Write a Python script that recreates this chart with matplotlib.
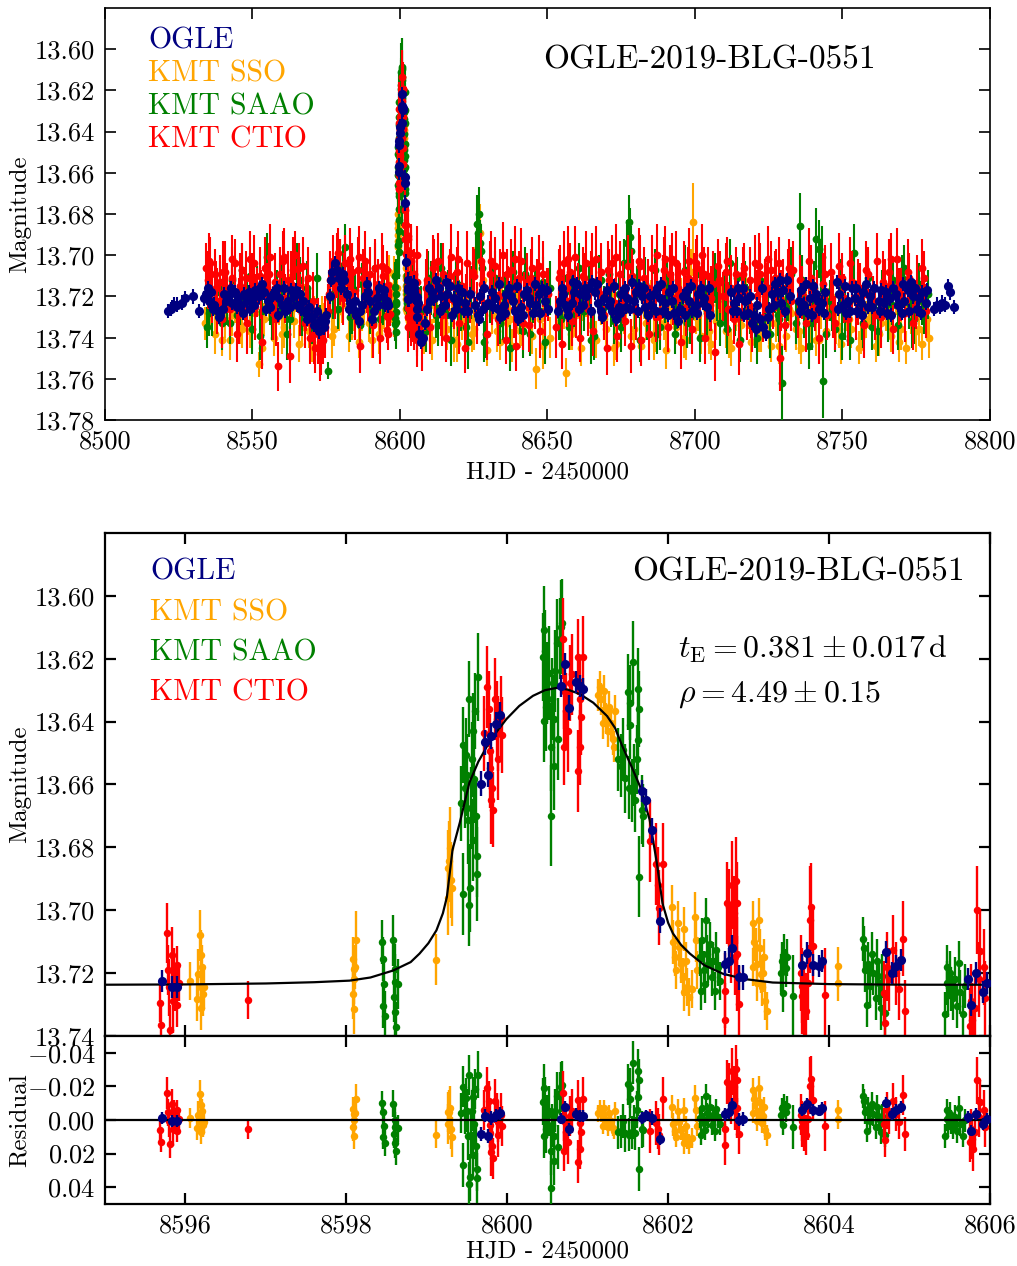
import numpy as np
import matplotlib
matplotlib.use("Agg")
import matplotlib.pyplot as plt

plt.rcParams['font.family'] = ['cmr10', 'DejaVu Serif']
plt.rcParams['mathtext.fontset'] = 'cm'
plt.rcParams['axes.unicode_minus'] = False
plt.rcParams['axes.formatter.use_mathtext'] = True

# ---------------- labels / ticks ----------------
event_name = "OGLE-2019-BLG-0551"
series_names = ["OGLE", "KMT SSO", "KMT SAAO", "KMT CTIO"]
series_colors = ["#000080", "#FFA500", "#008000", "#FF0000"]
top_xticks = [8500, 8550, 8600, 8650, 8700, 8750, 8800]
top_yticks = [13.60, 13.62, 13.64, 13.66, 13.68, 13.70, 13.72, 13.74, 13.76, 13.78]
zoom_xticks = [8596, 8598, 8600, 8602, 8604, 8606]
zoom_yticks = [13.60, 13.62, 13.64, 13.66, 13.68, 13.70, 13.72, 13.74]
res_yticks = [-0.04, -0.02, 0.00, 0.02, 0.04]
res_yticklabels = [r"$-0.04$", r"$-0.02$", r"$0.00$", r"$0.02$", r"$0.04$"]
tE_text = r"$t_{\rm E} = 0.381 \pm 0.017\,{\rm d}$"
rho_text = r"$\rho = 4.49 \pm 0.15$"

# ---------------- model curve ----------------
model_t = [8595.0, 8596.0, 8597.0, 8597.6, 8598.04, 8598.3, 8598.58, 8598.8, 8598.91, 8599.02,
           8599.12, 8599.20, 8599.25, 8599.32, 8599.41, 8599.53, 8599.64, 8599.75, 8599.87, 8599.99,
           8600.15, 8600.32, 8600.47, 8600.61, 8600.75, 8600.90, 8601.07, 8601.24, 8601.34, 8601.43,
           8601.54, 8601.65, 8601.77, 8601.86, 8601.93, 8602.00, 8602.06, 8602.16, 8602.27, 8602.45,
           8602.68, 8602.95, 8603.30, 8604.0, 8605.0, 8606.0]
model_m = [13.7237, 13.7236, 13.7233, 13.7229, 13.7224, 13.7214, 13.7192, 13.7165, 13.7138, 13.7105,
           13.7064, 13.7010, 13.6958, 13.6808, 13.6722, 13.6594, 13.6528, 13.6478, 13.6432, 13.6392,
           13.6350, 13.6318, 13.6300, 13.6293, 13.6298, 13.6312, 13.6340, 13.6382, 13.6420, 13.6478,
           13.6540, 13.6606, 13.6712, 13.6850, 13.6978, 13.7040, 13.7074, 13.7110, 13.7138, 13.7175,
           13.7202, 13.7219, 13.7230, 13.7235, 13.7237, 13.7237]

# ---------------- zoomed-panel data (8595 - 8606) ----------------
ogle_t = [8595.71, 8595.83, 8595.89, 8599.67, 8599.72, 8599.76, 8599.80, 8599.86, 8599.91, 8600.67,
          8600.72, 8600.77, 8600.85, 8600.90, 8600.94, 8601.68, 8601.73, 8601.80, 8601.90, 8602.71,
          8602.76, 8602.80, 8602.88, 8602.93, 8603.67, 8603.73, 8603.80, 8603.87, 8603.91, 8604.71,
          8604.78, 8604.83, 8604.89, 8605.73, 8605.77, 8605.83, 8605.91, 8605.96]
ogle_m = [13.7224, 13.7243, 13.7243, 13.6597, 13.6466, 13.6569, 13.6446, 13.6409, 13.6379, 13.6287,
          13.6217, 13.6356, 13.6274, 13.6287, 13.6296, 13.6622, 13.6650, 13.6746, 13.7034, 13.7170,
          13.7160, 13.7120, 13.7213, 13.7213, 13.7173, 13.7136, 13.7173, 13.7178, 13.7162, 13.7133,
          13.7200, 13.7178, 13.7159, 13.7220, 13.7300, 13.7201, 13.7260, 13.7231]
ogle_e = [0.0035, 0.0035, 0.0035, 0.0040, 0.0040, 0.0040, 0.0040, 0.0040, 0.0040, 0.0035,
          0.0035, 0.0040, 0.0035, 0.0035, 0.0035, 0.0035, 0.0035, 0.0040, 0.0040, 0.0040,
          0.0040, 0.0040, 0.0040, 0.0040, 0.0035, 0.0035, 0.0035, 0.0035, 0.0035, 0.0035,
          0.0035, 0.0035, 0.0035, 0.0035, 0.0035, 0.0035, 0.0035, 0.0035]

sso_t = [8596.06, 8596.14, 8596.16, 8596.18, 8596.19, 8596.20, 8596.20, 8596.21, 8596.22, 8596.23,
         8598.08, 8598.08, 8598.09, 8598.09, 8598.10, 8598.11, 8598.12, 8599.11, 8599.26, 8599.27,
         8599.28, 8599.29, 8599.30, 8599.31, 8601.13, 8601.15, 8601.17, 8601.19, 8601.20, 8601.21,
         8601.23, 8601.25, 8601.27, 8601.29, 8601.31, 8601.33, 8601.34, 8602.05, 8602.06, 8602.08,
         8602.10, 8602.12, 8602.14, 8602.16, 8602.18, 8602.20, 8602.20, 8602.22, 8602.24, 8602.26,
         8602.30, 8602.33, 8602.35, 8602.36, 8603.05, 8603.06, 8603.07, 8603.09, 8603.10, 8603.11,
         8603.13, 8603.14, 8603.15, 8603.17, 8603.18, 8603.19, 8603.21, 8603.23, 8604.11, 8604.11]
sso_m = [13.7224, 13.7283, 13.7203, 13.7080, 13.7310, 13.7144, 13.7245, 13.7181, 13.7267, 13.7245,
         13.7155, 13.7265, 13.7187, 13.7315, 13.7219, 13.7180, 13.7094, 13.7157, 13.6960, 13.6866,
         13.6845, 13.6802, 13.6904, 13.6930, 13.6315, 13.6290, 13.6328, 13.6405, 13.6302, 13.6366,
         13.6390, 13.6430, 13.6354, 13.6405, 13.6456, 13.6480, 13.6366, 13.6989, 13.7100, 13.7149,
         13.7190, 13.7040, 13.7117, 13.7170, 13.7213, 13.7060, 13.7260, 13.7160, 13.7245, 13.7277,
         13.7250, 13.7021, 13.7096, 13.7190, 13.7042, 13.7180, 13.7100, 13.7117, 13.7230, 13.7170,
         13.7032, 13.7120, 13.7202, 13.7245, 13.7200, 13.7150, 13.7288, 13.7320, 13.7178, 13.7230]
sso_e = [0.006, 0.007, 0.008, 0.008, 0.007, 0.008, 0.008, 0.007, 0.007, 0.007,
         0.007, 0.008, 0.007, 0.008, 0.008, 0.007, 0.009, 0.008, 0.012, 0.012,
         0.013, 0.013, 0.012, 0.012, 0.005, 0.005, 0.005, 0.005, 0.005, 0.005,
         0.005, 0.005, 0.005, 0.005, 0.005, 0.005, 0.005, 0.007, 0.007, 0.006,
         0.006, 0.007, 0.006, 0.006, 0.006, 0.007, 0.006, 0.006, 0.006, 0.006,
         0.006, 0.008, 0.007, 0.006, 0.007, 0.006, 0.006, 0.006, 0.006, 0.006,
         0.007, 0.006, 0.006, 0.006, 0.006, 0.006, 0.006, 0.006, 0.006, 0.006]

saao_t = [8598.44, 8598.46, 8598.46, 8598.47, 8598.48, 8598.58, 8598.59, 8598.60, 8598.60, 8598.61,
          8598.62, 8598.64, 8599.43, 8599.45, 8599.455, 8599.47, 8599.49, 8599.50, 8599.51, 8599.52,
          8599.53, 8599.54, 8599.55, 8599.56, 8599.57, 8599.58, 8599.59, 8599.60, 8599.61, 8599.62,
          8599.63, 8599.64, 8600.44, 8600.46, 8600.46, 8600.47, 8600.48, 8600.50, 8600.52, 8600.54,
          8600.55, 8600.56, 8600.58, 8600.58, 8600.60, 8600.62, 8600.63, 8600.65, 8600.67, 8600.68,
          8601.38, 8601.42, 8601.44, 8601.47, 8601.50, 8601.51, 8601.52, 8601.53, 8601.55, 8601.56,
          8601.57, 8601.59, 8601.61, 8601.62, 8601.63, 8601.64, 8601.64, 8601.67, 8601.69, 8602.39,
          8602.41, 8602.42, 8602.44, 8602.46, 8602.47, 8602.48, 8602.50, 8602.52, 8602.54, 8602.56,
          8602.58, 8602.60, 8602.62, 8602.64, 8603.40, 8603.42, 8603.43, 8603.44, 8603.46, 8603.48,
          8603.55, 8604.42, 8604.43, 8604.45, 8604.47, 8604.49, 8604.51, 8604.53, 8604.55, 8604.58,
          8604.60, 8604.62, 8604.64, 8604.66, 8604.69, 8605.44, 8605.46, 8605.46, 8605.48, 8605.50,
          8605.52, 8605.54, 8605.57, 8605.59, 8605.61, 8605.63, 8605.67, 8605.69]
saao_m = [13.7101, 13.7155, 13.7304, 13.7235, 13.7336, 13.7096, 13.7277, 13.7187, 13.7325, 13.7229,
          13.7373, 13.7235, 13.6660, 13.6949, 13.6475, 13.6610, 13.6507, 13.6570, 13.6712, 13.6984,
          13.6328, 13.6930, 13.6674, 13.6520, 13.6776, 13.6430, 13.6584, 13.6366, 13.6700, 13.6884,
          13.6827, 13.6258, 13.6194, 13.6110, 13.6398, 13.6174, 13.6354, 13.6277, 13.6245, 13.6482,
          13.6699, 13.6328, 13.6392, 13.6540, 13.6238, 13.6149, 13.6456, 13.6136, 13.6098, 13.6085,
          13.6520, 13.6540, 13.6490, 13.6580, 13.6306, 13.6610, 13.6340, 13.6410, 13.6620, 13.6210,
          13.6570, 13.6650, 13.6520, 13.6296, 13.6460, 13.6360, 13.6893, 13.6680, 13.6700, 13.7149,
          13.7256, 13.7096, 13.7190, 13.7234, 13.7032, 13.7138, 13.7170, 13.7106, 13.7213, 13.7160,
          13.7256, 13.7128, 13.7180, 13.7224, 13.7200, 13.7162, 13.7263, 13.7136, 13.7183, 13.7150,
          13.7273, 13.7093, 13.7120, 13.7190, 13.7300, 13.7170, 13.7240, 13.7140, 13.7200, 13.7280,
          13.7160, 13.7230, 13.7310, 13.7210, 13.7326, 13.7331, 13.7230, 13.7180, 13.7270, 13.7200,
          13.7250, 13.7280, 13.7220, 13.7305, 13.7167, 13.7260, 13.7330, 13.7240]
saao_e = [0.007, 0.007, 0.007, 0.008, 0.008, 0.008, 0.008, 0.008, 0.009, 0.009,
          0.008, 0.008, 0.012, 0.013, 0.012, 0.013, 0.012, 0.013, 0.014, 0.013,
          0.012, 0.014, 0.013, 0.012, 0.013, 0.012, 0.014, 0.012, 0.012, 0.015,
          0.013, 0.014, 0.014, 0.014, 0.013, 0.013, 0.014, 0.013, 0.015, 0.014,
          0.016, 0.013, 0.014, 0.014, 0.013, 0.014, 0.013, 0.013, 0.015, 0.014,
          0.010, 0.010, 0.010, 0.011, 0.012, 0.010, 0.012, 0.011, 0.010, 0.013,
          0.010, 0.010, 0.011, 0.013, 0.011, 0.012, 0.013, 0.011, 0.010, 0.006,
          0.006, 0.007, 0.006, 0.006, 0.007, 0.006, 0.006, 0.007, 0.006, 0.006,
          0.006, 0.006, 0.006, 0.006, 0.006, 0.006, 0.006, 0.006, 0.006, 0.006,
          0.013, 0.007, 0.007, 0.007, 0.007, 0.007, 0.007, 0.007, 0.007, 0.007,
          0.007, 0.007, 0.007, 0.007, 0.007, 0.007, 0.007, 0.007, 0.007, 0.007,
          0.007, 0.007, 0.007, 0.007, 0.007, 0.007, 0.007, 0.007]

ctio_t = [8595.68, 8595.70, 8595.77, 8595.78, 8595.80, 8595.81, 8595.83, 8595.84, 8595.86, 8595.87,
          8595.89, 8595.90, 8595.92, 8596.78, 8599.71, 8599.75, 8599.77, 8599.78, 8599.79, 8599.80,
          8599.81, 8599.82, 8599.85, 8599.87, 8599.88, 8599.89, 8599.92, 8599.94, 8600.69, 8600.71,
          8600.71, 8600.73, 8600.75, 8600.78, 8600.80, 8600.88, 8600.88, 8600.90, 8600.90, 8600.92,
          8600.94, 8601.77, 8601.85, 8601.87, 8601.89, 8601.93, 8602.71, 8602.71, 8602.73, 8602.76,
          8602.78, 8602.80, 8602.82, 8602.83, 8602.84, 8602.85, 8602.86, 8602.86, 8602.88, 8603.65,
          8603.66, 8603.67, 8603.69, 8603.71, 8603.74, 8603.76, 8603.78, 8603.80, 8603.95, 8604.68,
          8604.70, 8604.72, 8604.74, 8604.79, 8604.83, 8604.87, 8604.92, 8604.95, 8605.75, 8605.76,
          8605.78, 8605.79, 8605.81, 8605.84, 8605.86, 8605.88, 8605.92, 8605.94]
ctio_m = [13.7295, 13.7365, 13.7073, 13.7190, 13.7245, 13.7380, 13.7144, 13.7290, 13.7200, 13.7250,
          13.7300, 13.7175, 13.7230, 13.7285, 13.6437, 13.6290, 13.6360, 13.6546, 13.6495, 13.6650,
          13.6610, 13.6680, 13.6328, 13.6392, 13.6520, 13.6437, 13.6386, 13.6443, 13.6136, 13.6302,
          13.6482, 13.6366, 13.6430, 13.6277, 13.6250, 13.6194, 13.6558, 13.6328, 13.6482, 13.6386,
          13.6194, 13.6779, 13.6854, 13.6920, 13.6992, 13.6854, 13.7256, 13.7350, 13.6978, 13.6990,
          13.7110, 13.6920, 13.7010, 13.7150, 13.6907, 13.7202, 13.6978, 13.7140, 13.7298, 13.7200,
          13.7240, 13.7273, 13.7300, 13.7321, 13.7230, 13.7030, 13.6990, 13.7115, 13.7271, 13.7263,
          13.7358, 13.7180, 13.7220, 13.7125, 13.7200, 13.7250, 13.7090, 13.7321, 13.7369, 13.7290,
          13.7350, 13.7411, 13.7310, 13.7000, 13.7220, 13.7130, 13.7180, 13.7280]
ctio_e = [0.006, 0.006, 0.0095, 0.008, 0.009, 0.008, 0.009, 0.010, 0.008, 0.007,
          0.007, 0.006, 0.006, 0.006, 0.012, 0.013, 0.012, 0.013, 0.012, 0.014,
          0.013, 0.012, 0.013, 0.012, 0.013, 0.012, 0.013, 0.012, 0.013, 0.012,
          0.012, 0.012, 0.013, 0.012, 0.013, 0.012, 0.013, 0.013, 0.012, 0.012,
          0.013, 0.013, 0.013, 0.012, 0.012, 0.013, 0.012, 0.012, 0.013, 0.012,
          0.012, 0.014, 0.012, 0.012, 0.014, 0.012, 0.013, 0.012, 0.012, 0.012,
          0.012, 0.012, 0.012, 0.012, 0.012, 0.017, 0.014, 0.012, 0.015, 0.010,
          0.010, 0.011, 0.010, 0.011, 0.010, 0.010, 0.012, 0.010, 0.012, 0.012,
          0.012, 0.013, 0.012, 0.014, 0.012, 0.013, 0.012, 0.012]

# ---------------- full-season data outside the zoom window ----------------
ogle_top_t = [8521.4, 8522.3, 8522.7, 8523.5, 8524.5, 8526.0, 8527.1, 8529.8, 8531.9, 8533.5,
              8534.3, 8535.2, 8536.1, 8537.0, 8538.2, 8539.1, 8540.0, 8541.2, 8542.3, 8543.1,
              8544.0, 8545.2, 8546.1, 8547.0, 8548.3, 8549.2, 8550.1, 8551.0, 8552.2, 8553.1,
              8554.0, 8555.2, 8556.1, 8557.0, 8558.2, 8559.1, 8560.0, 8561.2, 8562.1, 8563.0,
              8564.2, 8565.1, 8566.0, 8567.2, 8568.1, 8569.0, 8570.2, 8571.1, 8572.0, 8573.2,
              8574.1, 8575.0, 8576.2, 8577.1, 8578.0, 8579.2, 8580.1, 8581.0, 8582.2, 8583.1,
              8584.0, 8585.2, 8586.1, 8587.0, 8588.2, 8589.1, 8590.0, 8591.2, 8592.1, 8593.0,
              8594.2, 8595.0, 8606.5, 8607.2, 8607.8, 8608.5, 8609.3, 8610.2, 8611.0, 8612.3,
              8613.1, 8614.0, 8615.2, 8616.1, 8617.0, 8618.2, 8619.1, 8620.0, 8621.2, 8622.1,
              8623.0, 8625.6, 8626.4, 8627.3, 8628.1, 8630.0, 8631.3, 8632.2, 8633.1, 8634.0,
              8635.2, 8636.1, 8637.0, 8638.2, 8639.1, 8640.0, 8641.2, 8642.1, 8643.0, 8644.2,
              8645.1, 8646.0, 8647.2, 8648.1, 8649.0, 8650.2, 8653.5, 8654.3, 8655.2, 8656.1,
              8657.0, 8658.2, 8659.1, 8660.0, 8661.2, 8662.1, 8663.0, 8664.2, 8665.1, 8666.0,
              8667.2, 8668.1, 8669.0, 8670.2, 8671.1, 8672.0, 8673.2, 8674.1, 8675.0, 8676.2,
              8677.1, 8678.0, 8679.2, 8680.1, 8681.0, 8682.2, 8683.1, 8684.0, 8685.2, 8686.1,
              8687.0, 8688.2, 8689.1, 8690.0, 8691.2, 8692.1, 8693.0, 8694.2, 8695.1, 8696.0,
              8697.2, 8698.1, 8699.0, 8700.2, 8701.1, 8702.0, 8703.2, 8704.1, 8705.0, 8712.3,
              8713.2, 8714.1, 8715.0, 8716.2, 8717.1, 8718.0, 8719.2, 8720.1, 8721.0, 8722.2,
              8723.1, 8724.0, 8725.2, 8726.1, 8727.0, 8728.2, 8729.1, 8730.0, 8731.2, 8732.1,
              8735.2, 8736.1, 8737.0, 8738.2, 8739.1, 8740.0, 8741.2, 8742.1, 8743.0, 8744.2,
              8748.1, 8749.0, 8750.2, 8751.1, 8752.0, 8753.2, 8754.1, 8755.0, 8756.2, 8757.1,
              8758.0, 8759.2, 8760.1, 8762.3, 8763.2, 8764.1, 8765.0, 8766.2, 8767.1, 8768.0,
              8769.2, 8770.1, 8771.0, 8772.2, 8773.1, 8774.0, 8775.2, 8776.1, 8777.0, 8778.2,
              8781.2, 8782.0, 8782.9, 8783.8, 8784.6, 8785.9, 8786.6, 8787.8]
ogle_top_m = [13.727, 13.726, 13.725, 13.724, 13.724, 13.723, 13.721, 13.720, 13.727, 13.721,
              13.719, 13.722, 13.718, 13.724, 13.727, 13.729, 13.726, 13.722, 13.719, 13.723,
              13.718, 13.721, 13.724, 13.719, 13.722, 13.726, 13.721, 13.717, 13.720, 13.714,
              13.718, 13.722, 13.725, 13.719, 13.716, 13.721, 13.724, 13.727, 13.722, 13.717,
              13.720, 13.724, 13.719, 13.722, 13.728, 13.725, 13.730, 13.733, 13.727, 13.731,
              13.735, 13.729, 13.720, 13.708, 13.704, 13.711, 13.716, 13.712, 13.719, 13.723,
              13.726, 13.729, 13.732, 13.724, 13.720, 13.718, 13.722, 13.727, 13.721, 13.716,
              13.720, 13.724, 13.738, 13.742, 13.740, 13.733, 13.726, 13.722, 13.718, 13.712,
              13.716, 13.720, 13.724, 13.719, 13.715, 13.721, 13.726, 13.722, 13.718, 13.723,
              13.727, 13.724, 13.729, 13.720, 13.726, 13.723, 13.718, 13.721, 13.726, 13.730,
              13.724, 13.719, 13.716, 13.722, 13.727, 13.731, 13.725, 13.719, 13.717, 13.723,
              13.728, 13.724, 13.719, 13.716, 13.722, 13.726, 13.727, 13.722, 13.719, 13.724,
              13.729, 13.723, 13.718, 13.714, 13.719, 13.724, 13.720, 13.716, 13.713, 13.718,
              13.723, 13.727, 13.721, 13.717, 13.722, 13.727, 13.731, 13.725, 13.719, 13.716,
              13.721, 13.726, 13.722, 13.718, 13.715, 13.720, 13.725, 13.729, 13.724, 13.719,
              13.716, 13.721, 13.727, 13.723, 13.718, 13.722, 13.728, 13.732, 13.726, 13.720,
              13.717, 13.722, 13.727, 13.724, 13.719, 13.716, 13.721, 13.725, 13.729, 13.718,
              13.723, 13.727, 13.721, 13.716, 13.722, 13.728, 13.733, 13.729, 13.724, 13.731,
              13.735, 13.738, 13.726, 13.719, 13.714, 13.718, 13.723, 13.717, 13.712, 13.720,
              13.722, 13.717, 13.724, 13.728, 13.721, 13.715, 13.719, 13.726, 13.723, 13.718,
              13.713, 13.719, 13.724, 13.728, 13.722, 13.716, 13.721, 13.727, 13.723, 13.718,
              13.714, 13.720, 13.725, 13.722, 13.717, 13.723, 13.728, 13.721, 13.716, 13.719,
              13.724, 13.728, 13.722, 13.717, 13.713, 13.720, 13.726, 13.721, 13.718, 13.723,
              13.726, 13.724, 13.725, 13.723, 13.724, 13.715, 13.718, 13.725]
ogle_top2_t = [8534.8, 8536.6, 8538.7, 8540.5, 8542.8, 8544.6, 8546.7, 8548.8, 8550.6, 8552.7,
               8554.6, 8556.7, 8558.7, 8560.6, 8562.7, 8564.7, 8566.6, 8568.6, 8570.7, 8572.6,
               8574.6, 8576.7, 8578.6, 8580.6, 8582.7, 8584.6, 8586.6, 8588.7, 8590.6, 8592.6,
               8594.6, 8609.8, 8611.6, 8613.6, 8615.7, 8617.6, 8619.7, 8621.7, 8623.6, 8626.9,
               8628.6, 8631.7, 8633.6, 8635.7, 8637.6, 8639.7, 8641.7, 8643.6, 8645.7, 8647.6,
               8649.7, 8654.8, 8656.7, 8658.7, 8660.6, 8662.7, 8664.6, 8666.7, 8668.6, 8670.7,
               8672.6, 8674.7, 8676.6, 8678.7, 8680.6, 8682.7, 8684.6, 8686.7, 8688.6, 8690.7,
               8692.6, 8694.7, 8696.6, 8698.7, 8700.7, 8702.6, 8704.7, 8712.8, 8714.7, 8716.6,
               8718.7, 8720.6, 8722.7, 8724.6, 8726.7, 8728.7, 8730.6, 8735.7, 8737.6, 8739.7,
               8741.7, 8743.6, 8748.6, 8750.7, 8752.6, 8754.7, 8756.6, 8758.7, 8760.6, 8762.8,
               8764.7, 8766.6, 8768.7, 8770.6, 8772.7, 8774.6, 8776.7, 8778.6]
ogle_top2_m = [13.716, 13.726, 13.730, 13.719, 13.716, 13.725, 13.728, 13.718, 13.724, 13.716,
               13.726, 13.720, 13.729, 13.716, 13.725, 13.717, 13.726, 13.731, 13.734, 13.737,
               13.732, 13.712, 13.707, 13.709, 13.726, 13.722, 13.727, 13.714, 13.731, 13.724,
               13.717, 13.716, 13.721, 13.727, 13.713, 13.729, 13.716, 13.727, 13.719, 13.731,
               13.716, 13.725, 13.714, 13.728, 13.720, 13.715, 13.729, 13.721, 13.714, 13.728,
               13.717, 13.716, 13.726, 13.713, 13.726, 13.716, 13.727, 13.714, 13.730, 13.724,
               13.715, 13.728, 13.725, 13.713, 13.727, 13.716, 13.720, 13.727, 13.714, 13.729,
               13.716, 13.727, 13.729, 13.715, 13.728, 13.723, 13.716, 13.727, 13.716, 13.729,
               13.720, 13.736, 13.716, 13.730, 13.724, 13.712, 13.727, 13.727, 13.714, 13.729,
               13.722, 13.728, 13.726, 13.715, 13.727, 13.716, 13.729, 13.725, 13.716, 13.727,
               13.718, 13.729, 13.724, 13.714, 13.727, 13.716, 13.728, 13.717]
ogle_top_err = 0.0035

ctio_top_t = [8534.1, 8534.9, 8535.6, 8536.4, 8537.3, 8538.1, 8539.0, 8539.8, 8540.7, 8541.5,
              8542.4, 8543.2, 8544.1, 8544.9, 8545.8, 8546.6, 8547.5, 8548.3, 8549.2, 8550.0,
              8550.9, 8551.7, 8552.6, 8553.4, 8554.3, 8555.1, 8556.0, 8556.8, 8557.7, 8558.5,
              8559.4, 8560.2, 8561.1, 8561.9, 8562.8, 8563.6, 8564.5, 8565.3, 8566.2, 8567.0,
              8567.9, 8568.7, 8569.6, 8570.4, 8571.3, 8572.1, 8573.0, 8573.8, 8574.7, 8575.5,
              8576.4, 8577.2, 8578.1, 8578.9, 8579.8, 8580.6, 8581.5, 8582.3, 8583.2, 8584.0,
              8584.9, 8585.7, 8586.6, 8587.4, 8588.3, 8589.1, 8590.0, 8590.8, 8591.7, 8592.5,
              8593.4, 8594.2,
              8606.6, 8607.5, 8608.4, 8609.3, 8610.2, 8611.1, 8612.0, 8612.9, 8613.8, 8614.7,
              8615.6, 8616.5, 8617.4, 8618.3, 8619.2, 8620.1, 8621.0, 8621.9, 8622.8, 8623.7,
              8625.0, 8626.2, 8627.4, 8628.6, 8629.5, 8630.4, 8631.3, 8632.2, 8633.1, 8634.0,
              8634.9, 8635.8, 8636.7, 8637.6, 8638.5, 8639.4, 8640.3, 8641.2, 8642.1, 8643.0,
              8643.9, 8644.8, 8645.7, 8646.6, 8647.5, 8648.4, 8649.3, 8650.2, 8653.0, 8653.9,
              8654.8, 8655.7, 8656.6, 8657.5, 8658.4, 8659.3, 8660.2, 8661.1, 8662.0, 8662.9,
              8663.8, 8664.7, 8665.6, 8666.5, 8667.4, 8668.3, 8669.2, 8670.1, 8671.0, 8671.9,
              8672.8, 8673.7, 8674.6, 8675.5, 8676.4, 8677.3, 8678.2, 8679.1, 8680.0, 8680.9,
              8681.8, 8682.7, 8683.6, 8684.5, 8685.4, 8686.3, 8687.2, 8688.1, 8689.0, 8689.9,
              8690.8, 8691.7, 8692.6, 8693.5, 8694.4, 8695.3, 8696.2, 8697.1, 8698.0, 8698.9,
              8699.8, 8700.7, 8701.6, 8702.5, 8703.4, 8704.3, 8705.2, 8706.1, 8706.8, 8707.7,
              8708.6, 8709.5, 8710.4, 8711.3, 8712.2, 8713.1, 8714.0, 8714.9, 8715.8, 8716.7,
              8717.6, 8718.5, 8719.4, 8720.3, 8721.2, 8722.1, 8723.0, 8723.9, 8724.8, 8725.7,
              8726.6, 8727.5, 8728.4, 8728.8, 8729.7, 8730.6, 8731.5, 8732.4, 8733.3, 8735.0,
              8736.4, 8737.8, 8739.2, 8740.6, 8742.0, 8743.4, 8744.8, 8746.2, 8747.6, 8749.0,
              8750.4, 8751.8, 8753.2, 8754.6, 8756.0, 8757.4, 8758.8, 8760.2, 8761.6, 8763.0,
              8764.4, 8765.8, 8767.2, 8768.4, 8769.8, 8771.2, 8772.6, 8774.0, 8775.4, 8776.8,
              8778.2]
ctio_top_m = [13.706, 13.712, 13.704, 13.718, 13.709, 13.722, 13.713, 13.731, 13.708, 13.716,
              13.726, 13.711, 13.704, 13.738, 13.715, 13.707, 13.720, 13.733, 13.702, 13.712,
              13.725, 13.718, 13.710, 13.742, 13.706, 13.716, 13.701, 13.728, 13.713, 13.754,
              13.709, 13.703, 13.721, 13.712, 13.749, 13.707, 13.700, 13.715, 13.724, 13.705,
              13.733, 13.711, 13.740, 13.722, 13.745, 13.737, 13.748, 13.741, 13.735, 13.727,
              13.712, 13.703, 13.716, 13.699, 13.708, 13.721, 13.704, 13.713, 13.702, 13.718,
              13.729, 13.707, 13.744, 13.711, 13.703, 13.720, 13.709, 13.734, 13.706, 13.714,
              13.740, 13.710,
              13.731, 13.742, 13.725, 13.712, 13.735, 13.706, 13.718, 13.703, 13.726, 13.709,
              13.740, 13.714, 13.701, 13.722, 13.708, 13.733, 13.715, 13.745, 13.704, 13.719,
              13.710, 13.728, 13.703, 13.716, 13.738, 13.709, 13.722, 13.705, 13.731, 13.712,
              13.700, 13.741, 13.718, 13.707, 13.726, 13.744, 13.711, 13.703, 13.720, 13.713,
              13.734, 13.706, 13.724, 13.716, 13.737, 13.709, 13.727, 13.719, 13.735, 13.711,
              13.743, 13.704, 13.722, 13.708, 13.732, 13.701, 13.717, 13.740, 13.710, 13.704,
              13.726, 13.713, 13.737, 13.702, 13.719, 13.708, 13.729, 13.745, 13.712, 13.704,
              13.723, 13.739, 13.709, 13.717, 13.732, 13.705, 13.744, 13.714, 13.727, 13.703,
              13.741, 13.711, 13.722, 13.738, 13.706, 13.718, 13.700, 13.729, 13.713, 13.702,
              13.735, 13.709, 13.721, 13.704, 13.716, 13.742, 13.708, 13.725, 13.703, 13.736,
              13.712, 13.706, 13.719, 13.700, 13.740, 13.710, 13.724, 13.714, 13.747, 13.705,
              13.713, 13.720, 13.708, 13.726, 13.716, 13.731, 13.709, 13.743, 13.718, 13.706,
              13.728, 13.712, 13.735, 13.704, 13.720, 13.709, 13.730, 13.715, 13.702, 13.707,
              13.724, 13.712, 13.704, 13.750, 13.716, 13.734, 13.710, 13.722, 13.707, 13.728,
              13.718, 13.733, 13.711, 13.725, 13.740, 13.714, 13.729, 13.708, 13.733, 13.705,
              13.721, 13.731, 13.713, 13.727, 13.716, 13.734, 13.709, 13.722, 13.703, 13.730,
              13.715, 13.708, 13.736, 13.702, 13.719, 13.728, 13.711, 13.733, 13.716, 13.706,
              13.727]
ctio_top_e = [0.012, 0.014, 0.013, 0.015, 0.012, 0.016, 0.013, 0.014, 0.015, 0.012,
              0.013, 0.015, 0.012, 0.014, 0.016, 0.013, 0.012, 0.015, 0.014, 0.013,
              0.016, 0.012, 0.014, 0.013, 0.015, 0.012, 0.016, 0.013, 0.014, 0.012,
              0.013, 0.015, 0.012, 0.014, 0.013, 0.016, 0.012, 0.013, 0.015, 0.014,
              0.012, 0.015, 0.013, 0.014, 0.012, 0.016, 0.013, 0.012, 0.015, 0.013,
              0.014, 0.013, 0.015, 0.012, 0.016, 0.013, 0.014, 0.012, 0.015, 0.013,
              0.012, 0.016, 0.013, 0.014, 0.015, 0.012, 0.013, 0.016, 0.014, 0.012,
              0.013, 0.015,
              0.013, 0.014, 0.012, 0.015, 0.013, 0.016, 0.012, 0.014, 0.013, 0.015,
              0.012, 0.013, 0.016, 0.014, 0.012, 0.015, 0.013, 0.012, 0.016, 0.014,
              0.013, 0.015, 0.014, 0.012, 0.013, 0.016, 0.012, 0.014, 0.013, 0.015,
              0.016, 0.012, 0.013, 0.015, 0.014, 0.012, 0.013, 0.016, 0.012, 0.014,
              0.013, 0.015, 0.012, 0.014, 0.013, 0.016, 0.012, 0.013, 0.015, 0.014,
              0.012, 0.016, 0.013, 0.014, 0.012, 0.015, 0.013, 0.012, 0.014, 0.016,
              0.013, 0.015, 0.012, 0.016, 0.013, 0.014, 0.012, 0.013, 0.015, 0.014,
              0.012, 0.013, 0.016, 0.014, 0.012, 0.015, 0.013, 0.012, 0.014, 0.016,
              0.013, 0.015, 0.012, 0.013, 0.016, 0.014, 0.015, 0.012, 0.013, 0.016,
              0.012, 0.014, 0.013, 0.016, 0.012, 0.013, 0.015, 0.014, 0.016, 0.012,
              0.013, 0.016, 0.012, 0.015, 0.013, 0.014, 0.012, 0.016, 0.014, 0.013,
              0.015, 0.012, 0.014, 0.013, 0.016, 0.012, 0.013, 0.015, 0.014, 0.012,
              0.013, 0.016, 0.012, 0.014, 0.013, 0.015, 0.012, 0.013, 0.016, 0.014,
              0.012, 0.015, 0.013, 0.016, 0.014, 0.012, 0.013, 0.015, 0.014, 0.012,
              0.013, 0.014, 0.016, 0.012, 0.013, 0.015, 0.012, 0.014, 0.013, 0.016,
              0.012, 0.013, 0.015, 0.014, 0.012, 0.016, 0.013, 0.012, 0.014, 0.015,
              0.013, 0.016, 0.012, 0.015, 0.013, 0.014, 0.012, 0.013, 0.016, 0.014,
              0.013]
ctio_top2_t = [8535.2, 8537.7, 8540.1, 8542.9, 8545.3, 8547.9, 8550.4, 8552.9, 8555.5, 8558.0,
               8560.6, 8563.1, 8565.8, 8568.3, 8570.9, 8573.4, 8575.9, 8578.5, 8581.0, 8583.6,
               8586.1, 8588.7, 8591.2, 8593.8, 8608.9, 8611.5, 8614.1, 8616.9, 8619.6, 8622.3,
               8624.6, 8627.9, 8630.9, 8633.5, 8636.2, 8638.9, 8641.6, 8644.3, 8647.0, 8649.8,
               8654.3, 8657.0, 8659.8, 8662.4, 8665.1, 8667.8, 8670.5, 8673.2, 8675.9, 8678.6,
               8681.3, 8684.0, 8686.7, 8689.4, 8692.1, 8694.8, 8697.5, 8700.2, 8702.9, 8705.6,
               8708.1, 8710.8, 8713.5, 8716.2, 8718.9, 8721.6, 8724.3, 8727.0, 8729.2, 8731.9,
               8735.7, 8738.5, 8741.3, 8744.1, 8746.9, 8749.7, 8752.5, 8755.3, 8758.1, 8760.9,
               8763.7, 8766.5, 8769.3, 8772.1, 8774.9, 8777.5]
ctio_top2_m = [13.703, 13.716, 13.708, 13.702, 13.727, 13.711, 13.704, 13.719, 13.709, 13.731,
               13.701, 13.714, 13.706, 13.724, 13.738, 13.744, 13.719, 13.705, 13.712, 13.708,
               13.701, 13.716, 13.722, 13.705, 13.716, 13.704, 13.729, 13.710, 13.702, 13.725,
               13.708, 13.714, 13.703, 13.720, 13.709, 13.702, 13.733, 13.711, 13.705, 13.718,
               13.708, 13.702, 13.726, 13.711, 13.704, 13.719, 13.707, 13.701, 13.723, 13.710,
               13.705, 13.716, 13.730, 13.707, 13.702, 13.718, 13.711, 13.704, 13.709, 13.721,
               13.712, 13.703, 13.719, 13.709, 13.726, 13.705, 13.716, 13.711, 13.722, 13.706,
               13.712, 13.703, 13.720, 13.709, 13.725, 13.711, 13.704, 13.718, 13.707, 13.729,
               13.713, 13.702, 13.720, 13.708, 13.724, 13.711]
ctio_top2_e = [0.014, 0.013, 0.015, 0.012, 0.016, 0.013, 0.014, 0.012, 0.015, 0.013,
               0.014, 0.016, 0.012, 0.013, 0.015, 0.014, 0.012, 0.016, 0.013, 0.014,
               0.015, 0.012, 0.013, 0.016, 0.014, 0.012, 0.015, 0.013, 0.014, 0.016,
               0.012, 0.013, 0.015, 0.014, 0.012, 0.016, 0.013, 0.014, 0.015, 0.012,
               0.013, 0.016, 0.014, 0.012, 0.015, 0.013, 0.014, 0.016, 0.012, 0.013,
               0.015, 0.014, 0.012, 0.016, 0.013, 0.014, 0.015, 0.012, 0.013, 0.016,
               0.014, 0.012, 0.015, 0.013, 0.014, 0.016, 0.012, 0.013, 0.015, 0.014,
               0.012, 0.016, 0.013, 0.014, 0.015, 0.012, 0.013, 0.016, 0.014, 0.012,
               0.015, 0.013, 0.014, 0.016, 0.012, 0.013]

saao_top_t = [8534.5, 8536.2, 8538.0, 8539.7, 8541.4, 8543.1, 8544.8, 8546.5, 8548.2, 8549.9,
              8551.6, 8553.3, 8555.0, 8556.7, 8558.4, 8560.1, 8561.8, 8563.5, 8565.2, 8566.9,
              8568.6, 8570.3, 8572.0, 8573.7, 8575.6, 8577.3, 8579.0, 8580.7, 8581.5, 8583.1,
              8584.8, 8586.5, 8588.2, 8589.9, 8591.6, 8593.3, 8594.6, 8607.0, 8608.7, 8610.4,
              8612.1, 8613.8, 8615.5, 8617.2, 8618.9, 8620.6, 8622.3, 8624.0, 8625.8, 8626.3,
              8626.8, 8627.3, 8627.8, 8628.4, 8629.0, 8630.5, 8632.2, 8633.9, 8635.6, 8637.3,
              8639.0, 8640.7, 8642.4, 8644.1, 8645.8, 8647.5, 8649.2, 8651.0, 8653.8, 8655.5,
              8657.2, 8658.9, 8660.6, 8662.3, 8664.0, 8665.7, 8667.4, 8669.1, 8670.8, 8672.5,
              8674.2, 8675.9, 8676.8, 8677.5, 8678.2, 8679.6, 8681.3, 8683.0, 8684.7, 8686.4,
              8688.1, 8689.8, 8691.5, 8693.2, 8694.9, 8696.6, 8698.3, 8700.0, 8701.7, 8703.4,
              8705.1, 8706.8, 8708.5, 8710.2, 8711.9, 8713.6, 8715.3, 8717.0, 8718.7, 8720.4,
              8722.1, 8723.8, 8725.5, 8727.2, 8728.6, 8729.4, 8730.8, 8732.5, 8734.2, 8735.6,
              8737.0, 8738.7, 8740.4, 8741.2, 8742.0, 8742.8, 8743.5, 8744.3, 8745.9, 8747.6,
              8749.3, 8751.0, 8752.7, 8754.0, 8755.4, 8757.1, 8758.8, 8760.5, 8762.2, 8763.9,
              8765.6, 8767.3, 8769.0, 8770.7, 8772.4, 8774.1, 8775.8, 8777.5, 8779.0]
saao_top_m = [13.735, 13.727, 13.718, 13.733, 13.724, 13.712, 13.729, 13.707, 13.721, 13.736,
              13.716, 13.727, 13.701, 13.731, 13.719, 13.712, 13.738, 13.722, 13.706, 13.728,
              13.716, 13.733, 13.711, 13.742, 13.756, 13.719, 13.726, 13.709, 13.696, 13.730,
              13.717, 13.734, 13.713, 13.725, 13.706, 13.731, 13.720, 13.727, 13.737, 13.716,
              13.729, 13.706, 13.721, 13.741, 13.713, 13.725, 13.735, 13.718, 13.700, 13.689,
              13.680, 13.694, 13.706, 13.742, 13.738, 13.722, 13.711, 13.733, 13.720, 13.745,
              13.714, 13.728, 13.709, 13.738, 13.719, 13.727, 13.742, 13.716, 13.729, 13.711,
              13.735, 13.722, 13.706, 13.727, 13.716, 13.739, 13.713, 13.725, 13.709, 13.732,
              13.719, 13.704, 13.694, 13.684, 13.698, 13.726, 13.741, 13.714, 13.728, 13.707,
              13.735, 13.720, 13.712, 13.738, 13.723, 13.707, 13.730, 13.716, 13.740, 13.719,
              13.727, 13.711, 13.733, 13.722, 13.704, 13.729, 13.741, 13.716, 13.726, 13.735,
              13.712, 13.724, 13.738, 13.718, 13.731, 13.762, 13.725, 13.709, 13.733, 13.686,
              13.728, 13.744, 13.716, 13.692, 13.697, 13.705, 13.761, 13.738, 13.722, 13.736,
              13.714, 13.728, 13.741, 13.699, 13.719, 13.733, 13.711, 13.724, 13.737, 13.716,
              13.729, 13.712, 13.734, 13.706, 13.723, 13.731, 13.714, 13.727, 13.719]
saao_top_e = [0.010, 0.012, 0.011, 0.013, 0.010, 0.012, 0.011, 0.013, 0.010, 0.012,
              0.011, 0.013, 0.012, 0.010, 0.012, 0.011, 0.013, 0.010, 0.012, 0.011,
              0.013, 0.010, 0.012, 0.011, 0.004, 0.012, 0.010, 0.013, 0.011, 0.012,
              0.010, 0.012, 0.011, 0.013, 0.012, 0.010, 0.011, 0.012, 0.010, 0.013,
              0.011, 0.012, 0.010, 0.013, 0.011, 0.012, 0.010, 0.013, 0.011, 0.012,
              0.013, 0.011, 0.012, 0.010, 0.012, 0.011, 0.013, 0.010, 0.012, 0.011,
              0.012, 0.010, 0.013, 0.011, 0.012, 0.010, 0.011, 0.013, 0.012, 0.010,
              0.011, 0.013, 0.012, 0.010, 0.011, 0.012, 0.013, 0.010, 0.012, 0.011,
              0.010, 0.012, 0.011, 0.013, 0.012, 0.010, 0.011, 0.013, 0.012, 0.010,
              0.011, 0.013, 0.012, 0.010, 0.011, 0.012, 0.013, 0.010, 0.012, 0.011,
              0.010, 0.012, 0.011, 0.013, 0.012, 0.010, 0.011, 0.013, 0.012, 0.010,
              0.011, 0.013, 0.012, 0.010, 0.011, 0.018, 0.012, 0.013, 0.010, 0.016,
              0.012, 0.011, 0.013, 0.015, 0.014, 0.013, 0.018, 0.012, 0.010, 0.011,
              0.012, 0.013, 0.010, 0.014, 0.011, 0.012, 0.013, 0.010, 0.012, 0.011,
              0.013, 0.010, 0.012, 0.011, 0.013, 0.012, 0.010, 0.011, 0.012]
saao_top2_t = [8535.4, 8538.9, 8542.3, 8545.7, 8549.1, 8552.5, 8555.9, 8559.3, 8562.7, 8566.1,
               8569.5, 8572.9, 8576.3, 8579.7, 8583.9, 8587.3, 8590.7, 8594.1, 8609.6, 8613.0,
               8616.4, 8619.8, 8623.2, 8626.0, 8627.6, 8631.4, 8634.8, 8638.2, 8641.6, 8645.0,
               8648.4, 8654.6, 8658.0, 8661.4, 8664.8, 8668.2, 8671.6, 8675.0, 8677.9, 8680.4,
               8683.8, 8687.2, 8690.6, 8694.0, 8697.4, 8700.8, 8704.2, 8707.6, 8711.0, 8714.4,
               8717.8, 8721.2, 8724.6, 8728.0, 8731.6, 8736.3, 8739.6, 8743.0, 8746.4, 8749.8,
               8753.3, 8756.5, 8759.9, 8763.3, 8766.7, 8770.1, 8773.5, 8776.9]
saao_top2_m = [13.728, 13.715, 13.733, 13.721, 13.710, 13.739, 13.724, 13.716, 13.731, 13.712,
               13.727, 13.736, 13.719, 13.705, 13.726, 13.714, 13.733, 13.722, 13.711, 13.734,
               13.719, 13.728, 13.742, 13.685, 13.698, 13.716, 13.729, 13.708, 13.737, 13.722,
               13.713, 13.731, 13.718, 13.727, 13.741, 13.712, 13.724, 13.735, 13.691, 13.716,
               13.729, 13.738, 13.714, 13.725, 13.733, 13.709, 13.728, 13.719, 13.736, 13.711,
               13.725, 13.740, 13.716, 13.729, 13.721, 13.712, 13.733, 13.701, 13.726, 13.739,
               13.715, 13.728, 13.735, 13.719, 13.724, 13.711, 13.732, 13.722]
saao_top2_e = [0.011, 0.012, 0.010, 0.013, 0.011, 0.012, 0.010, 0.012, 0.013, 0.011,
               0.010, 0.012, 0.011, 0.013, 0.012, 0.010, 0.011, 0.012, 0.013, 0.010,
               0.012, 0.011, 0.013, 0.014, 0.013, 0.011, 0.012, 0.010, 0.013, 0.011,
               0.012, 0.010, 0.011, 0.013, 0.012, 0.010, 0.011, 0.012, 0.014, 0.011,
               0.012, 0.010, 0.013, 0.011, 0.012, 0.010, 0.011, 0.013, 0.012, 0.010,
               0.011, 0.013, 0.012, 0.010, 0.011, 0.012, 0.013, 0.015, 0.011, 0.012,
               0.010, 0.013, 0.011, 0.012, 0.010, 0.011, 0.013, 0.012]

sso_top_t = [8533.8, 8535.5, 8537.2, 8538.9, 8540.6, 8542.3, 8544.0, 8545.7, 8547.4, 8549.1,
             8550.8, 8552.2, 8553.9, 8555.6, 8557.3, 8559.0, 8560.7, 8562.4, 8564.1, 8565.8,
             8567.5, 8569.2, 8570.9, 8572.6, 8574.3, 8576.0, 8577.7, 8579.4, 8581.1, 8582.8,
             8584.5, 8586.2, 8587.9, 8589.6, 8591.3, 8593.0, 8594.5, 8607.3, 8609.0, 8610.7,
             8612.4, 8614.1, 8615.8, 8617.5, 8619.2, 8620.9, 8622.6, 8624.3, 8626.0, 8627.0,
             8628.0, 8629.6, 8631.3, 8633.0, 8634.7, 8636.4, 8638.1, 8639.8, 8641.5, 8643.2,
             8644.9, 8646.0, 8647.6, 8649.3, 8651.0, 8654.0, 8655.5, 8656.3, 8657.9, 8659.6,
             8661.3, 8663.0, 8664.7, 8666.4, 8668.1, 8669.8, 8671.5, 8673.2, 8674.9, 8676.6,
             8678.3, 8680.0, 8681.7, 8683.4, 8685.1, 8686.8, 8688.5, 8690.2, 8691.9, 8693.6,
             8695.3, 8697.0, 8698.7, 8699.5, 8700.3, 8702.0, 8703.7, 8705.4, 8707.1, 8708.8,
             8710.5, 8712.2, 8713.9, 8715.6, 8717.3, 8719.0, 8720.7, 8722.4, 8724.1, 8725.8,
             8727.5, 8729.2, 8730.9, 8732.6, 8734.3, 8736.0, 8737.7, 8739.4, 8741.1, 8742.8,
             8744.5, 8746.2, 8747.9, 8749.6, 8751.3, 8753.0, 8754.7, 8756.4, 8758.1, 8759.8,
             8761.5, 8763.2, 8764.9, 8766.6, 8768.3, 8770.0, 8771.7, 8773.4, 8775.1, 8776.8,
             8778.5]
sso_top_m = [13.733, 13.727, 13.738, 13.722, 13.731, 13.741, 13.725, 13.734, 13.719, 13.737,
             13.728, 13.753, 13.731, 13.722, 13.740, 13.726, 13.735, 13.718, 13.732, 13.743,
             13.724, 13.737, 13.729, 13.744, 13.733, 13.721, 13.736, 13.727, 13.716, 13.739,
             13.728, 13.742, 13.724, 13.733, 13.719, 13.738, 13.727, 13.735, 13.726, 13.741,
             13.729, 13.720, 13.736, 13.727, 13.743, 13.731, 13.722, 13.738, 13.697, 13.689,
             13.712, 13.746, 13.729, 13.737, 13.722, 13.733, 13.744, 13.726, 13.735, 13.720,
             13.739, 13.755, 13.731, 13.724, 13.740, 13.733, 13.727, 13.757, 13.738, 13.729,
             13.745, 13.722, 13.734, 13.741, 13.726, 13.736, 13.719, 13.743, 13.731, 13.724,
             13.739, 13.728, 13.744, 13.733, 13.721, 13.737, 13.729, 13.746, 13.725, 13.735,
             13.720, 13.741, 13.708, 13.684, 13.730, 13.739, 13.726, 13.743, 13.732, 13.722,
             13.737, 13.745, 13.727, 13.734, 13.719, 13.742, 13.730, 13.738, 13.725, 13.744,
             13.733, 13.721, 13.739, 13.728, 13.736, 13.745, 13.724, 13.733, 13.741, 13.727,
             13.737, 13.720, 13.734, 13.743, 13.729, 13.736, 13.722, 13.740, 13.731, 13.725,
             13.744, 13.733, 13.727, 13.739, 13.720, 13.736, 13.745, 13.729, 13.737, 13.743,
             13.731]
sso_top_e = [0.008, 0.009, 0.010, 0.008, 0.009, 0.010, 0.008, 0.009, 0.011, 0.008,
             0.009, 0.006, 0.008, 0.010, 0.009, 0.008, 0.010, 0.009, 0.008, 0.009,
             0.010, 0.008, 0.009, 0.008, 0.010, 0.009, 0.008, 0.010, 0.009, 0.008,
             0.009, 0.008, 0.010, 0.009, 0.008, 0.010, 0.009, 0.008, 0.009, 0.010,
             0.008, 0.009, 0.010, 0.008, 0.009, 0.010, 0.008, 0.009, 0.012, 0.014,
             0.010, 0.008, 0.009, 0.010, 0.008, 0.009, 0.008, 0.010, 0.009, 0.008,
             0.009, 0.010, 0.008, 0.009, 0.010, 0.008, 0.009, 0.007, 0.008, 0.010,
             0.009, 0.008, 0.010, 0.009, 0.008, 0.009, 0.010, 0.008, 0.009, 0.010,
             0.008, 0.009, 0.010, 0.008, 0.009, 0.010, 0.008, 0.009, 0.010, 0.008,
             0.009, 0.010, 0.011, 0.019, 0.008, 0.009, 0.010, 0.008, 0.009, 0.010,
             0.008, 0.009, 0.010, 0.008, 0.009, 0.010, 0.008, 0.009, 0.010, 0.008,
             0.009, 0.010, 0.008, 0.009, 0.010, 0.008, 0.009, 0.010, 0.008, 0.009,
             0.010, 0.008, 0.009, 0.010, 0.008, 0.009, 0.010, 0.008, 0.009, 0.010,
             0.008, 0.009, 0.010, 0.008, 0.009, 0.010, 0.008, 0.009, 0.010, 0.008,
             0.009]
sso_top2_t = [8536.3, 8539.8, 8543.2, 8546.6, 8550.0, 8553.1, 8556.5, 8559.9, 8563.3, 8566.7,
              8570.1, 8573.5, 8576.9, 8580.3, 8583.7, 8587.1, 8590.5, 8593.9, 8608.2, 8611.6,
              8615.0, 8618.4, 8621.8, 8625.2, 8630.5, 8633.9, 8637.3, 8640.7, 8644.1, 8648.5,
              8654.8, 8658.2, 8661.9, 8665.6, 8669.0, 8672.4, 8675.8, 8679.2, 8682.6, 8686.0,
              8689.4, 8692.8, 8696.2, 8701.2, 8704.6, 8708.0, 8711.4, 8714.8, 8718.2, 8721.6,
              8725.0, 8728.4, 8731.8, 8735.2, 8738.6, 8742.0, 8745.4, 8748.8, 8752.2, 8755.6,
              8759.0, 8762.4, 8765.8, 8769.2, 8772.6, 8776.0, 8779.2]
sso_top2_m = [13.725, 13.741, 13.729, 13.736, 13.722, 13.745, 13.731, 13.738, 13.726, 13.735,
              13.742, 13.728, 13.739, 13.724, 13.733, 13.727, 13.741, 13.730, 13.738, 13.724,
              13.733, 13.741, 13.728, 13.736, 13.723, 13.742, 13.731, 13.737, 13.726, 13.744,
              13.729, 13.736, 13.723, 13.739, 13.731, 13.745, 13.727, 13.736, 13.722, 13.741,
              13.733, 13.726, 13.740, 13.729, 13.737, 13.723, 13.742, 13.731, 13.727, 13.739,
              13.733, 13.744, 13.726, 13.737, 13.729, 13.741, 13.724, 13.736, 13.731, 13.745,
              13.727, 13.738, 13.730, 13.742, 13.725, 13.736, 13.740]
sso_top2_e = [0.009, 0.008, 0.010, 0.009, 0.011, 0.008, 0.009, 0.010, 0.008, 0.009,
              0.010, 0.008, 0.011, 0.009, 0.008, 0.010, 0.009, 0.008, 0.010, 0.009,
              0.008, 0.011, 0.009, 0.010, 0.008, 0.009, 0.010, 0.008, 0.009, 0.011,
              0.008, 0.010, 0.009, 0.008, 0.010, 0.009, 0.011, 0.008, 0.009, 0.010,
              0.008, 0.009, 0.010, 0.008, 0.011, 0.009, 0.008, 0.010, 0.009, 0.008,
              0.010, 0.009, 0.008, 0.011, 0.009, 0.010, 0.008, 0.009, 0.010, 0.008,
              0.009, 0.011, 0.008, 0.010, 0.009, 0.008, 0.010]


def series(t, m, e):
    n = min(len(t), len(m), len(e))
    return np.asarray(t[:n], float), np.asarray(m[:n], float), np.asarray(e[:n], float)


# ---------------- figure ----------------
fig = plt.figure(figsize=(10.17, 12.66), dpi=100)
ax_top = fig.add_axes([0.1032, 0.6682, 0.8702, 0.3255])
ax_main = fig.add_axes([0.1032, 0.1817, 0.8702, 0.3973])
ax_res = fig.add_axes([0.1032, 0.0490, 0.8702, 0.1327], sharex=ax_main)

c_ogle, c_sso, c_saao, c_ctio = series_colors
TICK_FS = 19
LABEL_FS = 18
LEG_FS = 21.5
TITLE_FS = 24

# ---- top panel: full season ----
top_sets = [
    (sso_top_t + sso_top2_t + sso_t, sso_top_m + sso_top2_m + sso_m,
     sso_top_e + sso_top2_e + sso_e, c_sso, 5.6),
    (saao_top_t + saao_top2_t + saao_t, saao_top_m + saao_top2_m + saao_m,
     saao_top_e + saao_top2_e + saao_e, c_saao, 5.6),
    (ctio_top_t + ctio_top2_t + ctio_t, ctio_top_m + ctio_top2_m + ctio_m,
     ctio_top_e + ctio_top2_e + ctio_e, c_ctio, 5.6),
    (ogle_top_t + ogle_top2_t + ogle_t, ogle_top_m + ogle_top2_m + ogle_m,
     [ogle_top_err] * (len(ogle_top_t) + len(ogle_top2_t)) + ogle_e, c_ogle, 6.6),
]
for k, (t, m, e, col, ms) in enumerate(top_sets):
    t, m, e = series(t, m, e)
    ax_top.errorbar(t, m, yerr=e, fmt='o', color=col, ms=ms, mew=0,
                    elinewidth=1.5, capsize=1.8, capthick=1.2, zorder=2 + k)

ax_top.set_xlim(8500, 8800)
ax_top.set_ylim(13.78, 13.58)
ax_top.set_xticks(top_xticks)
ax_top.set_xticklabels([str(v) for v in top_xticks])
ax_top.set_yticks(top_yticks)
ax_top.set_yticklabels([f"{v:.2f}" for v in top_yticks])
ax_top.set_xlabel("HJD - 2450000", fontsize=LABEL_FS)
ax_top.set_ylabel("Magnitude", fontsize=LABEL_FS)
ax_top.xaxis.set_label_coords(0.5, -0.10)
ax_top.yaxis.set_label_coords(-0.084, 0.5)
for i, (name, col) in enumerate(zip(series_names, series_colors)):
    ax_top.text(0.049, 0.921 - 0.08 * i, name, color=col, fontsize=LEG_FS,
                transform=ax_top.transAxes, ha='left', va='center')
ax_top.text(0.871, 0.874, event_name, fontsize=TITLE_FS, transform=ax_top.transAxes,
            ha='right', va='center')

# ---- zoom panel ----
model_t_a = np.asarray(model_t)
model_m_a = np.asarray(model_m)
zoom_sets = [
    (sso_t, sso_m, sso_e, c_sso, 5.4),
    (saao_t, saao_m, saao_e, c_saao, 5.4),
    (ctio_t, ctio_m, ctio_e, c_ctio, 5.4),
    (ogle_t, ogle_m, ogle_e, c_ogle, 6.6),
]
for k, (t, m, e, col, ms) in enumerate(zoom_sets):
    t, m, e = series(t, m, e)
    z = 2 + k if col != c_ogle else 7
    ax_main.errorbar(t, m, yerr=e, fmt='o', color=col, ms=ms, mew=0,
                     elinewidth=1.7, capsize=2.6, capthick=1.6, zorder=z)
    res = m - np.interp(t, model_t_a, model_m_a)
    ax_res.errorbar(t, res, yerr=e, fmt='o', color=col, ms=ms, mew=0,
                    elinewidth=1.7, capsize=2.6, capthick=1.6, zorder=z)

ax_main.plot(model_t, model_m, color='black', lw=1.6, zorder=6)
ax_res.axhline(0.0, color='black', lw=1.6, zorder=6)

ax_main.set_xlim(8595, 8606)
ax_main.set_ylim(13.74, 13.58)
ax_main.set_yticks(zoom_yticks)
ax_main.set_yticklabels([f"{v:.2f}" for v in zoom_yticks])
ax_main.set_xticks(zoom_xticks)
ax_main.tick_params(axis='x', labelbottom=False)
ax_main.set_ylabel("Magnitude", fontsize=LABEL_FS)
ax_main.yaxis.set_label_coords(-0.084, 0.5)

for i, (name, col) in enumerate(zip(series_names, series_colors)):
    ax_main.text(0.051, 0.922 - 0.08 * i, name, color=col, fontsize=LEG_FS,
                 transform=ax_main.transAxes, ha='left', va='center')
ax_main.text(0.972, 0.922, event_name, fontsize=TITLE_FS, transform=ax_main.transAxes,
             ha='right', va='center')
ax_main.text(0.648, 0.768, tE_text, fontsize=23, transform=ax_main.transAxes,
             ha='left', va='center')
ax_main.text(0.648, 0.680, rho_text, fontsize=23, transform=ax_main.transAxes,
             ha='left', va='center')

ax_res.set_ylim(0.05, -0.05)
ax_res.set_yticks(res_yticks)
ax_res.set_yticklabels(res_yticklabels)
ax_res.set_xticks(zoom_xticks)
ax_res.set_xticklabels([str(v) for v in zoom_xticks])
ax_res.set_xlabel("HJD - 2450000", fontsize=LABEL_FS)
ax_res.set_ylabel("Residual", fontsize=LABEL_FS)
ax_res.xaxis.set_label_coords(0.5, -0.215)
ax_res.yaxis.set_label_coords(-0.084, 0.5)

for ax, lw in [(ax_top, 1.2), (ax_main, 1.6), (ax_res, 1.6)]:
    ax.tick_params(which='both', direction='in', top=True, right=True,
                   length=8, width=lw, labelsize=TICK_FS, pad=7)
    for s in ax.spines.values():
        s.set_linewidth(lw)

fig.savefig("out.png", dpi=100)
